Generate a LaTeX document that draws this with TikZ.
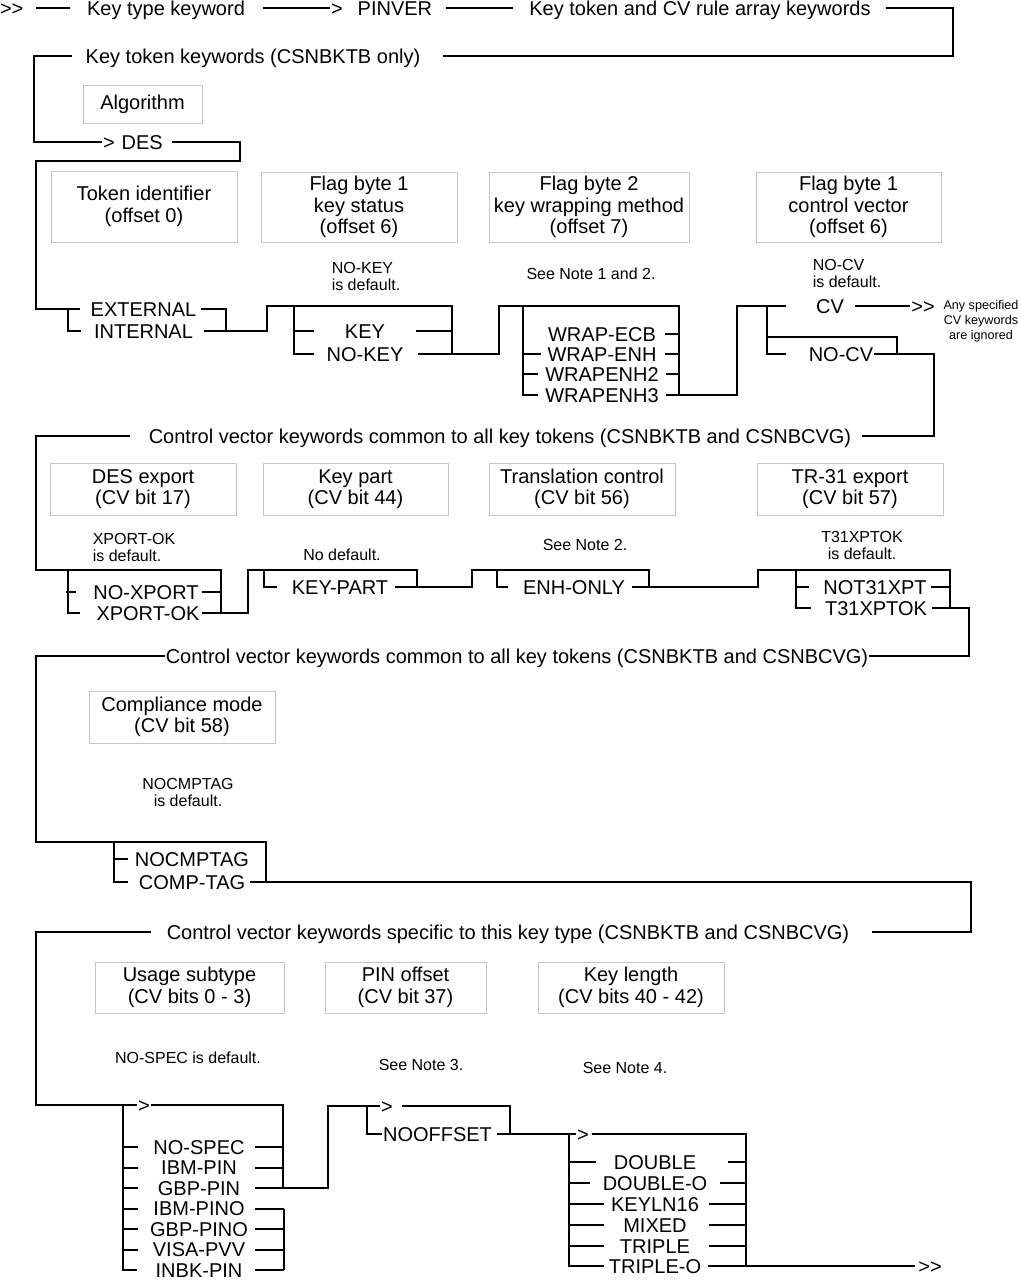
\documentclass[tikz,border=0pt]{standalone}
\usepackage{fontspec}
\setmainfont{Liberation Sans}
\begin{document}
\begin{tikzpicture}[x=0.5pt,y=-0.5pt,line width=1pt,
    kw/.style={inner sep=0pt,text height=7.2pt,text depth=0pt,font=\fontsize{10}{12}\selectfont},
    fieldbox/.style={draw=gray!45,line width=0.5pt,align=center,inner sep=0pt,font=\fontsize{10}{10.8}\selectfont},
    note/.style={align=center,inner sep=0pt,font=\fontsize{8}{8.5}\selectfont},
    tinynote/.style={align=center,inner sep=0pt,font=\fontsize{6.3}{7.6}\selectfont}]
    \useasboundingbox (0,0) rectangle (1021,1280);

    % Key type and rule array
    \node[kw] (start) at (11.7,8) {>\kern0pt>};
    \node[kw] (keytype) at (166,8) {Key type keyword};
    \node[kw,anchor=west] (pinver) at (330,8) {>\hspace{7.5pt}PINVER};
    \node[kw] (ktcv) at (700,8) {Key token and CV rule array keywords};
    \node[kw] (ktonly) at (253,56) {Key token keywords (CSNBKTB only)};
    \draw ([xshift=6pt]start.east) -- ([xshift=-8pt]keytype.west);
    \draw ([xshift=8.5pt]keytype.east) -- (pinver.west);
    \draw ([xshift=6.5pt]pinver.east) -- ([xshift=-7.5pt]ktcv.west);
    \draw ([xshift=7pt]ktcv.east) -| (953,56) -- ([xshift=11pt]ktonly.east);

    % Algorithm
    \node[fieldbox,minimum width=59.5pt,minimum height=19pt] (algo) at (142.5,104) {Algorithm};
    \node[kw,anchor=west] (des) at (102,142) {>\hspace{3.5pt}DES};
    \draw ([xshift=-6.5pt]ktonly.west) -| (34,142) -- (des.west);

    % Key token fields
    \node[fieldbox,minimum width=93pt,minimum height=35.5pt] (tokid) at (144,206.5) {Token identifier\\(offset 0)};
    \node[fieldbox,minimum width=98pt,minimum height=35pt] (flagone) at (359,207) {Flag byte 1\\key status\\(offset 6)};
    \node[fieldbox,minimum width=100pt,minimum height=35pt] (flagtwo) at (589,207) {Flag byte 2\\key wrapping method\\(offset 7)};
    \node[fieldbox,minimum width=92.5pt,minimum height=35pt] (flagcv) at (848.5,207) {Flag byte 1\\control vector\\(offset 6)};
    \node[note,align=left] (nokeydef) at (366,276) {NO-KEY\\is default.};
    \node[note] (notetwelve) at (591,274) {See Note 1 and 2.};
    \node[note,align=left] (nocvdef) at (847,273) {NO-CV\\is default.};

    \node[kw] (ext) at (143.5,309) {EXTERNAL};
    \node[kw] (int) at (143.5,331) {INTERNAL};
    \draw ([xshift=4pt]des.east) -| (240,161) -| (36,309) -- ([xshift=-5pt]ext.west);
    \draw (68,309) |- ([xshift=-6pt]int.west);
    \draw ([xshift=2pt]ext.east) -| (226,331);
    \draw ([xshift=5pt]int.east) -| (267,306) -- (452,306) -- (452,354);

    \node[kw] (key) at (365,331) {KEY};
    \node[kw] (nokey) at (365,354) {NO-KEY};
    \draw (294,306) |- ([xshift=-6pt]nokey.west);
    \draw ([xshift=-15pt]key.west) -- +(-21,0);
    \draw ([xshift=15pt]key.east) -- (452,331);
    \draw ([xshift=7pt]nokey.east) -| (499,306) -- (679,306) -- (679,395);

    \node[kw] (wecb) at (602,334) {WRAP-ECB};
    \node[kw] (wenh) at (602,354) {WRAP-ENH};
    \node[kw] (wenhtwo) at (602,374) {WRAPENH2};
    \node[kw] (wenhthree) at (602,395) {WRAPENH3};
    \draw (523,306) |- ([xshift=-3pt]wenhthree.west);
    \draw ([xshift=-3pt]wenh.west) -- +(-18,0);
    \draw ([xshift=-3pt]wenhtwo.west) -- +(-16,0);
    \draw ([xshift=4pt]wecb.east) -- (679,334);
    \draw ([xshift=4pt]wenh.east) -- (679,354);
    \draw ([xshift=3pt]wenhtwo.east) -- (679,374);
    \draw ([xshift=3pt]wenhthree.east) -| (737,306) -- (786,306);

    \node[kw] (cv) at (830,306) {CV};
    \node[kw] (nocv) at (841,354) {NO-CV};
    \node[kw] (cvend) at (923,306) {>\kern0pt>};
    \node[tinynote] (ignored) at (981,321) {Any specified\\CV keywords\\are ignored};
    \draw (767,306) |- ([xshift=-11pt]nocv.west);
    \draw (767,337) -| (897,354);
    \draw ([xshift=5pt]cv.east) -- (cvend.west);

    % Common control vector keywords
    \node[kw] (cvcom) at (500,436) {Control vector keywords common to all key tokens (CSNBKTB and CSNBCVG)};
    \draw (nocv.east) -| (934,436) -- ([xshift=5pt]cvcom.east);
    \node[fieldbox,minimum width=93pt,minimum height=26pt] (desexp) at (143,489) {DES export\\(CV bit 17)};
    \node[fieldbox,minimum width=92.5pt,minimum height=26pt] (keypart) at (355.5,489) {Key part\\(CV bit 44)};
    \node[fieldbox,minimum width=93pt,minimum height=26pt] (transl) at (582,489) {Translation control\\(CV bit 56)};
    \node[fieldbox,minimum width=93pt,minimum height=26pt] (trexp) at (850,489) {TR-31 export\\(CV bit 57)};
    \node[note,align=left] (xpokdef) at (134,547) {XPORT-OK\\is default.};
    \node[note] (nodef) at (342,555) {No default.};
    \node[note] (notetwo) at (585,545) {See Note 2.};
    \node[note] (tokdef) at (862,545) {T31XPTOK\\is default.};

    \node[kw] (noxport) at (146,592) {NO-XPORT};
    \node[kw] (xportok) at (148,613) {XPORT-OK};
    \draw ([xshift=-9pt]cvcom.west) -| (36,570) -- (221,570) -- (221,613);
    \draw (68,570) |- ([xshift=-8pt]xportok.west);
    \draw ([xshift=-8pt]noxport.west) -- +(-10,0);
    \draw ([xshift=1pt]noxport.east) -- (221,592);
    \draw ([xshift=1pt]xportok.east) -| (248,570) -- (417,570) -- (417,587);

    \node[kw] (keypartkw) at (340,587) {KEY-PART};
    \draw (264,570) |- ([xshift=-7pt]keypartkw.west);
    \draw ([xshift=3pt]keypartkw.east) -| (472,570) -- (649,570) -- (649,587);

    \node[kw] (enhonly) at (574,587) {ENH-ONLY};
    \draw (497,570) |- ([xshift=-7pt]enhonly.west);
    \draw ([xshift=3pt]enhonly.east) -| (758,570) -- (950,570) -- (950,608);

    \node[kw] (notxpt) at (875,587) {NOT31XPT};
    \node[kw] (xptok) at (876,608) {T31XPTOK};
    \draw (796,570) |- ([xshift=-6.5pt]xptok.west);
    \draw ([xshift=-6.5pt]notxpt.west) -- +(-14,0);
    \draw ([xshift=1.5pt]notxpt.east) -- (950,587);

    % Compliance mode
    \node[kw] (cvcomtwo) at (517,656) {Control vector keywords common to all key tokens (CSNBKTB and CSNBCVG)};
    \draw ([xshift=2pt]xptok.east) -| (969,656) -- (cvcomtwo.east);
    \node[fieldbox,minimum width=93pt,minimum height=26pt] (compl) at (182,717) {Compliance mode\\(CV bit 58)};
    \node[note] (nocmpdef) at (188,792) {NOCMPTAG\\is default.};
    \node[kw] (nocmptag) at (192,859) {NOCMPTAG};
    \node[kw] (comptag) at (192,882) {COMP-TAG};
    \draw (cvcomtwo.west) -| (36,842) -- (266,842) -- (266,882);
    \draw (114,842) |- ([xshift=-5pt]comptag.west);
    \draw ([xshift=-3pt]nocmptag.west) -- +(-13,0);

    % Key type specific keywords
    \node[kw] (cvspec) at (508,932) {Control vector keywords specific to this key type (CSNBKTB and CSNBCVG)};
    \draw ([xshift=2pt]comptag.east) -| (971,932) -- ([xshift=11pt]cvspec.east);
    \node[fieldbox,minimum width=94.5pt,minimum height=25.5pt] (usage) at (189.5,987.5) {Usage subtype\\(CV bits 0 - 3)};
    \node[fieldbox,minimum width=80.5pt,minimum height=25.5pt] (pinoff) at (405.5,987.5) {PIN offset\\(CV bit 37)};
    \node[fieldbox,minimum width=93pt,minimum height=25.5pt] (keylen) at (631,987.5) {Key length\\(CV bits 40 - 42)};
    \node[note] (nospecdef) at (188,1058) {NO-SPEC is default.};
    \node[note] (notethree) at (421,1065) {See Note 3.};
    \node[note] (notefour) at (625,1068) {See Note 4.};

    % Usage subtype
    \node[kw] (gta) at (144,1105) {>};
    \draw ([xshift=-7.5pt]cvspec.west) -| (36,1105) -- (gta.west);
    \node[kw] (nospec) at (199,1147) {NO-SPEC};
    \node[kw] (ibmpin) at (199,1167.5) {IBM-PIN};
    \node[kw] (gbppin) at (199,1188) {GBP-PIN};
    \node[kw] (ibmpino) at (199,1208.5) {IBM-PINO};
    \node[kw] (gbppino) at (199,1229) {GBP-PINO};
    \node[kw] (visapvv) at (199,1249.5) {VISA-PVV};
    \node[kw] (inbkpin) at (199,1270) {INBK-PIN};
    \coordinate (subl) at (123,1105);
    \coordinate (subr) at (283,1105);
    \coordinate (subrtwo) at (284,1208.5);
    \draw (gta.east) -| (283,1188);
    \draw (subl) |- ([xshift=-9pt]inbkpin.west);
    \draw (nospec.west -| subl) -- +(15,0);
    \draw (ibmpin.west -| subl) -- +(15,0);
    \draw (gbppin.west -| subl) -- +(15,0);
    \draw (ibmpino.west -| subl) -- +(15,0);
    \draw (gbppino.west -| subl) -- +(15,0);
    \draw (visapvv.west -| subl) -- +(15,0);
    \draw (nospec.east -| subr) -- +(-28,0);
    \draw (ibmpin.east -| subr) -- +(-28,0);
    \draw (ibmpino.east -| subrtwo) -- +(-29,0);
    \draw (gbppino.east -| subrtwo) -- +(-29,0);
    \draw (visapvv.east -| subrtwo) -- +(-29,0);
    \draw (inbkpin.east -| subrtwo) -- +(-29,0);
    \draw (ibmpino.east -| subrtwo) -- (inbkpin.east -| subrtwo);

    % PIN offset
    \node[kw] (gtb) at (387,1106) {>};
    \node[kw] (nooffset) at (437.5,1134) {NOOFFSET};
    \draw ([xshift=7pt]gbppin.east) -| (328,1106) -- (gtb.west);
    \draw (367,1106) |- (nooffset.west);
    \draw ([xshift=4pt]gtb.east) -| (510,1134);

    % Key length
    \node[kw] (gtc) at (583,1134) {>};
    \node[kw] (double) at (655,1162) {DOUBLE};
    \node[kw] (doubleo) at (655,1183) {DOUBLE-O};
    \node[kw] (keyln) at (655,1204) {KEYLN16};
    \node[kw] (mixed) at (655,1225) {MIXED};
    \node[kw] (triple) at (655,1246) {TRIPLE};
    \node[kw] (tripleo) at (655,1266) {TRIPLE-O};
    \node[kw] (finish) at (930,1266) {>\kern0pt>};
    \coordinate (lenl) at (569,1134);
    \coordinate (lenr) at (746,1134);
    \draw ([xshift=2pt]nooffset.east) -- (gtc.west);
    \draw ([xshift=1pt]gtc.east) -- (lenr) -- (tripleo.east -| lenr);
    \draw (lenl) |- ([xshift=-2pt]tripleo.west);
    \draw (double.west -| lenl) -- +(27,0);
    \draw (doubleo.west -| lenl) -- +(21,0);
    \draw (keyln.west -| lenl) -- +(35,0);
    \draw (mixed.west -| lenl) -- +(35,0);
    \draw (triple.west -| lenl) -- +(35,0);
    \draw (double.east -| lenr) -- +(-18,0);
    \draw (doubleo.east -| lenr) -- +(-26,0);
    \draw (keyln.east -| lenr) -- +(-37,0);
    \draw (mixed.east -| lenr) -- +(-37,0);
    \draw (triple.east -| lenr) -- +(-37,0);
    \draw ([xshift=3pt]tripleo.east) -- ([xshift=-1pt]finish.west);
\end{tikzpicture}
\end{document}
